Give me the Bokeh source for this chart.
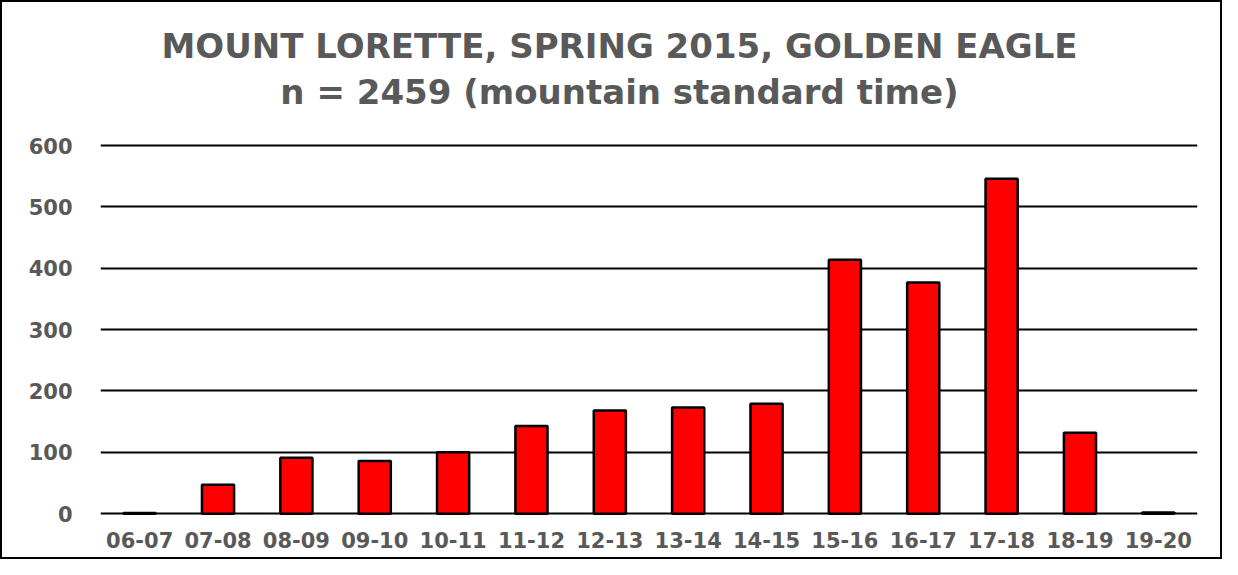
from bokeh.plotting import figure
from bokeh.models import Label, FixedTicker, Range1d
from bokeh.embed import file_html
from bokeh.resources import INLINE

categories = ["06-07", "07-08", "08-09", "09-10", "10-11", "11-12", "12-13",
              "13-14", "14-15", "15-16", "16-17", "17-18", "18-19", "19-20"]
counts = [1, 47, 91, 86, 100, 143, 168, 173, 179, 414, 377, 546, 132, 2]
y_ticks = [0, 100, 200, 300, 400, 500, 600]
title_line1 = "MOUNT LORETTE, SPRING 2015, GOLDEN EAGLE"
title_line2 = "n = 2459 (mountain standard time)"

GRAY = "#595959"
FONT = "DejaVu Sans"

# the frame is extended upward so the title lines sit inside it
p = figure(x_range=categories, y_range=Range1d(-3, 833.4),
           width=1222, height=559, output_backend="svg", toolbar_location=None,
           min_border_left=98, min_border_right=27, min_border_top=0,
           min_border_bottom=46)

p.vbar(x=categories, top=counts, width=0.41, fill_color="#FF0000",
       line_color="black", line_width=2.5)

p.outline_line_color = None
p.xgrid.grid_line_color = None
p.ygrid.grid_line_color = "black"
p.ygrid.grid_line_width = 2.2
p.yaxis.ticker = FixedTicker(ticks=y_ticks)
p.ygrid.ticker = FixedTicker(ticks=y_ticks)

for ax in (p.xaxis[0], p.yaxis[0]):
    ax.axis_line_color = None
    ax.major_tick_line_color = None
    ax.minor_tick_line_color = None
    ax.major_tick_out = 0
    ax.major_tick_in = 0
    ax.major_label_text_font = FONT
    ax.major_label_text_font_style = "bold"
    ax.major_label_text_color = GRAY
    ax.major_label_text_font_size = "21px"

p.yaxis.major_label_standoff = 28
p.xaxis.major_label_standoff = 16

l1 = Label(x=519, y=470, x_units="screen", y_units="screen", text=title_line1,
           text_align="center", text_baseline="alphabetic", text_font=FONT,
           text_font_style="bold", text_color=GRAY, text_font_size="34px")
l2 = Label(x=519, y=424, x_units="screen", y_units="screen", text=title_line2,
           text_align="center", text_baseline="alphabetic", text_font=FONT,
           text_font_style="bold", text_color=GRAY, text_font_size="34px")
p.add_layout(l1)
p.add_layout(l2)

p.styles = {"border": "2px solid black"}

open("out.html", "w").write(file_html(p, INLINE))
